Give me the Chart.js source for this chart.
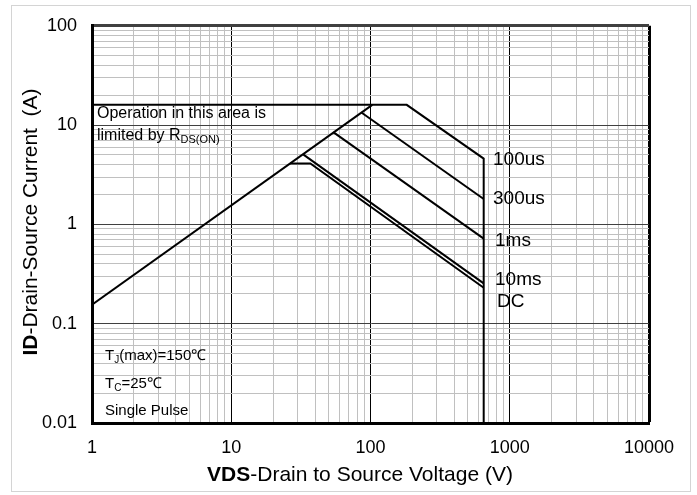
<!DOCTYPE html>
<html><head><meta charset="utf-8">
<script src="https://cdn.jsdelivr.net/npm/chart.js@4"></script>
<style>html,body{margin:0;padding:0;background:#fff;}</style>
</head><body>
<canvas id="c" width="697" height="495"></canvas>
<script>
// ---- data ----
const xTickDecades = [1, 10, 100, 1000, 10000];
const xTickLabels  = ['1', '10', '100', '1000', '10000'];
const yTickDecades = [0.01, 0.1, 1, 10, 100];
const yTickLabels  = ['0.01', '0.1', '1', '10', '100'];

const rdsLimitV   = [1, 103];
const rdsLimitI   = [0.155, 16];
const pulse100usV = [1, 182, 650, 650];
const pulse100usI = [16, 16, 4.6, 0.01];
const pulse300usV = [86, 650];
const pulse300usI = [13.4, 1.8];
const pulse1msV   = [54, 650];
const pulse1msI   = [8.5, 0.72];
const pulse10msV  = [33, 650];
const pulse10msI  = [5.05, 0.255];
const dcV         = [26.4, 37, 650];
const dcI         = [4.1, 4.1, 0.23];

const curveLabels = ['100us', '300us', '1ms', '10ms', 'DC'];

// ---- helpers ----
const FONT = '"Liberation Sans", Arial, sans-serif';
function pts(xs, ys) { return xs.map((x, i) => ({x: x, y: ys[i]})); }
function isDecade(v) { const l = Math.log10(v); return Math.abs(l - Math.round(l)) < 1e-6; }
function logTicks(decs) {
  const t = [];
  for (let i = 0; i < decs.length - 1; i++)
    for (let m = 1; m < 10; m++) t.push(+(decs[i] * m).toPrecision(4));
  t.push(decs[decs.length - 1]);
  return t.map(v => ({value: v}));
}
function labelFor(decs, labels, v) {
  for (let i = 0; i < decs.length; i++) if (Math.abs(Math.log10(v) - Math.log10(decs[i])) < 1e-6) return labels[i];
  return '';
}
function ds(xs, ys) {
  return {data: pts(xs, ys), showLine: true, borderColor: '#000', borderWidth: 2,
          pointRadius: 0, fill: false, tension: 0, borderJoinStyle: 'miter'};
}

const textPlugin = {
  id: 'texts',
  beforeDraw(chart) {
    const c = chart.ctx;
    c.save();
    c.fillStyle = '#fff';
    c.fillRect(0, 0, chart.width, chart.height);
    c.strokeStyle = '#d4d4d4';
    c.lineWidth = 1;
    c.strokeRect(11.5, 5.5, 679, 486);
    c.restore();
  },
  afterDraw(chart) {
    const c = chart.ctx;
    c.save();
    c.fillStyle = '#000';
    c.textBaseline = 'alphabetic';
    c.textAlign = 'left';
    function runs(x, y, parts) {
      let cx = x;
      parts.forEach(p => {
        c.font = (p[2] ? 'bold ' : '') + p[1] + 'px ' + FONT;
        c.fillText(p[0], cx, y + (p[3] || 0));
        cx += c.measureText(p[0]).width;
      });
    }
    function runsWidth(parts) {
      let w = 0;
      parts.forEach(p => { c.font = (p[2] ? 'bold ' : '') + p[1] + 'px ' + FONT; w += c.measureText(p[0]).width; });
      return w;
    }
    runs(97, 118, [['Operation in this area is', 16]]);
    runs(97, 140, [['limited by R', 16], ['DS(ON)', 11, false, 3]]);
    runs(105, 360, [['T', 15], ['J', 10, false, 3], ['(max)=150℃', 15]]);
    runs(105, 388, [['T', 15], ['C', 10, false, 3], ['=25℃', 15]]);
    runs(105, 415, [['Single Pulse', 15]]);
    const lx = [493, 493, 495, 495, 497];
    const ly = [165, 204, 246, 285, 307];
    curveLabels.forEach((t, i) => runs(lx[i], ly[i], [[t, 19]]));
    const xt = [['VDS', 21, true], ['-Drain to Source Voltage (V)', 21]];
    runs(360 - runsWidth(xt) / 2, 481, xt);
    const yt = [['ID', 21, true], ['-Drain-Source Current  (A)', 21]];
    c.translate(37, 222);
    c.rotate(-Math.PI / 2);
    runs(-runsWidth(yt) / 2, 0, yt);
    c.restore();
  }
};

new Chart(document.getElementById('c'), {
  type: 'scatter',
  data: {
    datasets: [
      ds(rdsLimitV, rdsLimitI),
      ds(pulse100usV, pulse100usI),
      ds(pulse300usV, pulse300usI),
      ds(pulse1msV, pulse1msI),
      ds(pulse10msV, pulse10msI),
      ds(dcV, dcI)
    ]
  },
  options: {
    responsive: false,
    animation: false,
    devicePixelRatio: 1,
    layout: {padding: {top: 19, right: 48, left: 0, bottom: 0}},
    plugins: {legend: {display: false}, tooltip: {enabled: false}},
    scales: {
      x: {
        type: 'logarithmic', min: 1, max: 10000,
        afterBuildTicks: s => { s.ticks = logTicks(xTickDecades); },
        afterFit: s => { s.height = 72; },
        ticks: {autoSkip: false, maxRotation: 0, padding: 14, color: '#000',
                font: {family: FONT, size: 18},
                callback: v => labelFor(xTickDecades, xTickLabels, v)},
        grid: {drawTicks: false,
               color: ctx => (ctx.tick && isDecade(ctx.tick.value)) ? '#000' : '#c0c0c0',
               lineWidth: ctx => (ctx.tick && ctx.tick.value >= 10000) ? 3 : 1},
        border: {color: '#000', width: 3}
      },
      y: {
        type: 'logarithmic', min: 0.01, max: 100,
        afterBuildTicks: s => { s.ticks = logTicks(yTickDecades); },
        afterFit: s => { s.width = 92; },
        ticks: {autoSkip: false, padding: 15, color: '#000',
                font: {family: FONT, size: 18},
                callback: v => labelFor(yTickDecades, yTickLabels, v)},
        grid: {drawTicks: false,
               color: ctx => (ctx.tick && isDecade(ctx.tick.value)) ? '#404040' : '#c0c0c0',
               lineWidth: ctx => (ctx.tick && ctx.tick.value >= 100) ? 3 : 1},
        border: {color: '#000', width: 3}
      }
    }
  },
  plugins: [textPlugin]
});
</script>
</body></html>
